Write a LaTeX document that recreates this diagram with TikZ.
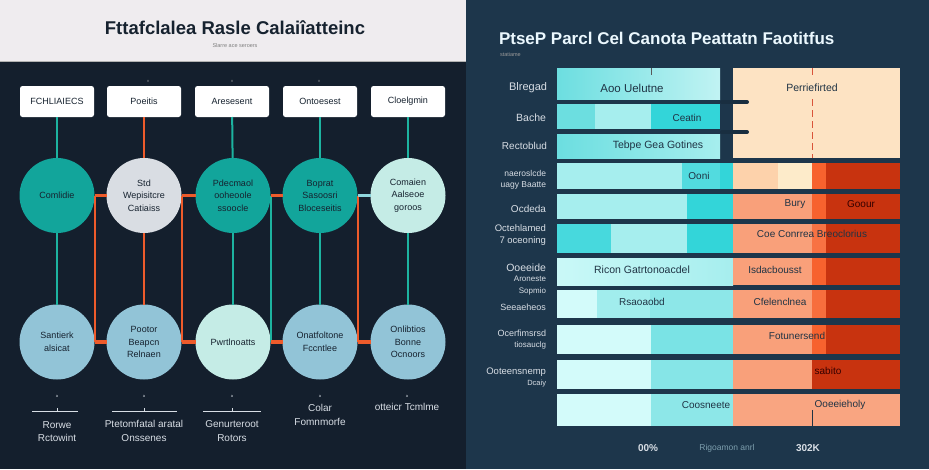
\documentclass[tikz,border=0pt]{standalone}
\usepackage{fontspec}
\setmainfont{Liberation Sans}
\definecolor{leftbg}{HTML}{141F2D}
\definecolor{hdr}{HTML}{EFECEF}
\definecolor{rightbg}{HTML}{1D364B}
\definecolor{ink}{HTML}{16222F}
\definecolor{tealc}{HTML}{12A59B}
\definecolor{tealline}{HTML}{1DB3A0}
\definecolor{orangeline}{HTML}{EE5B2B}
\definecolor{greyc}{HTML}{D9DDE3}
\definecolor{mintc}{HTML}{C5ECE6}
\definecolor{bluec}{HTML}{92C4D7}
\definecolor{lightline}{HTML}{8FD6DC}
\definecolor{lbltext}{HTML}{D8DEE5}
\definecolor{cyanA}{HTML}{A6EEEE}
\definecolor{cyanB}{HTML}{33D5D9}
\definecolor{cyanC}{HTML}{6CDEE0}
\definecolor{cyanP}{HTML}{D3FBFA}
\definecolor{cyanM}{HTML}{86E5E7}
\definecolor{peach}{HTML}{FDE3C3}
\definecolor{peachL}{HTML}{FDEBCA}
\definecolor{peachM}{HTML}{FDD2AB}
\definecolor{salmon}{HTML}{F9A07A}
\definecolor{orng}{HTML}{F7622E}
\definecolor{rust}{HTML}{C8330F}
\definecolor{dashred}{HTML}{D9543A}
\definecolor{barink}{HTML}{1F3344}
\begin{document}
\begin{tikzpicture}[x=1pt,y=-1pt,
  every node/.style={inner sep=0pt, outer sep=0pt},
  hbox/.style={fill=white, rounded corners=2.5pt, minimum width=74pt, minimum height=31pt,
    font=\fontsize{9}{11}\selectfont, text=ink},
  circ/.style={circle, minimum size=75pt, font=\fontsize{9}{12.5}\selectfont, text=ink, align=center},
  tline/.style={draw=tealline, line width=2pt},
  oline/.style={draw=orangeline, line width=2pt},
  ohline/.style={draw=orangeline, line width=3pt},
  ohthick/.style={draw=orangeline, line width=4pt},
  lowlbl/.style={font=\fontsize{10}{13.5}\selectfont, text=lbltext, align=center},
  tinymark/.style={font=\fontsize{4}{4}\selectfont, text=lbltext},
  rowlbl/.style={anchor=east, text=lbltext, align=right},
  bartxt/.style={text=barink},
  redtxt/.style={text=black!80!red}
]
\useasboundingbox (0,0) rectangle (929,469);
% backgrounds
\fill[leftbg] (0,0) rectangle (466,469);
\fill[hdr] (0,0) rectangle (466,61);
\draw[gray!60, line width=0.8pt] (0,61.5) -- (466,61.5);
\fill[rightbg] (466,0) rectangle (929,469);

% ---------- left panel ----------
\node[font=\bfseries\fontsize{18.5}{21}\selectfont, text=ink] (ltitle) at (235,28) {Fttafclalea Rasle Calaiîatteinc};
\node[font=\fontsize{5.5}{6}\selectfont, text=gray] (lsub) at (235,46) {Slarre ace seroers};

\foreach \x/\n in {148/m1,232/m2,319/m3}
  \node[tinymark, text=gray!70] (\n) at (\x,81) {v};

\node[hbox] (b1) at (57,101.5) {FCHLIAIECS};
\node[hbox] (b2) at (144,101.5) {Poeitis};
\node[hbox] (b3) at (232,101.5) {Aresesent};
\node[hbox] (b4) at (320,101.5) {Ontoesest};
\node[hbox] (b5) at (408,101.5) {Cloelgmin};

\node[circ, fill=tealc] (c1) at (57,195.5) {Comlidie};
\node[circ, fill=greyc] (c2) at (144,195.5) {Std\\Wepisitcre\\Catiaiss};
\node[circ, fill=tealc] (c3) at (233,195.5) {Pdecmaol\\ooheoole\\ssoocle};
\node[circ, fill=tealc] (c4) at (320,195.5) {Boprat\\Sasoosri\\Bloceseitis};
\node[circ, fill=mintc] (c5) at (408,195.5) {Comaien\\Aalseoe\\goroos};

\node[circ, fill=bluec] (d1) at (57,342) {Santierk\\alsicat};
\node[circ, fill=bluec] (d2) at (144,342) {Pootor\\Beapcn\\Relnaen};
\node[circ, fill=mintc] (d3) at (233,342) {Pwrtlnoatts};
\node[circ, fill=bluec] (d4) at (320,342) {Onatfoltone\\Fccntlee};
\node[circ, fill=bluec] (d5) at (408,342) {Onlibtios\\Bonne\\Ocnoors};

% box to circle
\draw[tline] (b1) -- (c1);
\draw[oline] (b2) -- (c2);
\draw[tline] (b3) -- (c3);
\draw[tline] (b4) -- (c4);
\draw[tline] (b5) -- (c5);
% circle to circle
\draw[tline] (c1) -- (d1);
\draw[oline] (c2) -- (d2);
\draw[tline] (c3) -- (d3);
\draw[tline] (c4) -- (d4);
\draw[tline] (c5) -- (d5);
% vertical links
\draw[oline] (c1.east) -- (d1.east);
\draw[oline] (c2.east) -- (d2.east);
\draw[tline] (c3.east) -- (d3.east);
\draw[oline] (c4.east) -- (d4.east);
% horizontal row 1
\draw[ohline] (c1.east) -- (c2.west);
\draw[ohline] (c2.east) -- (c3.west);
\draw[ohline] (c3.east) -- (c4.west);
\draw[draw=lightline, line width=3pt] (c4.east) -- (c5.west);
% horizontal row 2
\draw[ohthick] (d1.east) -- (d2.west);
\draw[ohthick] (d2.east) -- (d3.west);
\draw[ohthick] (d3.east) -- (d4.west);
\draw[ohthick] (d4.east) -- (d5.west);

% bottom marks and labels
\foreach \x/\n in {57/k1,144/k2,232/k3,320/k4,407/k5}
  \node[tinymark] (\n) at (\x,396) {a};
\coordinate (u1a) at (32,411); \coordinate (u1b) at (78,411);
\coordinate (u2a) at (112,411); \coordinate (u2b) at (177,411);
\coordinate (u3a) at (203,411); \coordinate (u3b) at (261,411);
\draw[lbltext, line width=0.9pt] (u1a) -- (u1b) (57,411) -- (57,407.5);
\draw[lbltext, line width=0.9pt] (u2a) -- (u2b) (144,411) -- (144,407.5);
\draw[lbltext, line width=0.9pt] (u3a) -- (u3b) (232,411) -- (232,407.5);
\node[lowlbl] (e1) at (57,431.5) {Rorwe\\Rctowint};
\node[lowlbl] (e2) at (144,431) {Ptetomfatal aratal\\Onssenes};
\node[lowlbl] (e3) at (232,431) {Genurteroot\\Rotors};
\node[lowlbl] (e4) at (320,415) {Colar\\Fomnmorfe};
\node[lowlbl] (e5) at (407,407) {otteicr Tcmlme};

% ---------- right panel ----------
\node[anchor=west, font=\bfseries\fontsize{17}{20}\selectfont, text=white!92!cyan] (rtitle) at (499,38) {PtseP Parcl Cel Canota Peattatn Faotitfus};
\node[anchor=west, font=\fontsize{5.5}{6}\selectfont, text=gray!80] (rsub) at (500,55) {statiame};

% rows 1-3 (left bars)
\shade[left color=cyanC, right color=cyanA!70!white] (557,68) rectangle (720,99);
\fill[cyanC] (557,104) rectangle (595,129);
\fill[cyanA] (595,104) rectangle (651,129);
\fill[cyanB] (651,104) rectangle (720,129);
\shade[left color=cyanC, right color=cyanA] (557,134) rectangle (720,158);
\draw[gray!70!black, line width=0.7pt] (651,68) -- (651,75);
% peach block
\fill[peach] (733,68) rectangle (900,158);
\draw[dashred, line width=0.8pt] (812,68) -- (812,75);
\draw[dashred, line width=0.8pt, dash pattern=on 7pt off 4pt] (812,99) -- (812,158);
\coordinate (n1a) at (722,102); \coordinate (n1b) at (747,102);
\coordinate (n2a) at (722,132); \coordinate (n2b) at (747,132);
\draw[rightbg!85!black, line width=4pt, line cap=round] (n1a) -- (n1b);
\draw[rightbg!85!black, line width=4pt, line cap=round] (n2a) -- (n2b);

% row 4
\fill[cyanA] (557,163) rectangle (682,189);
\fill[cyanB!85!white] (682,163) rectangle (720,189);
\fill[cyanB] (720,163) rectangle (733,189);
\fill[peachM] (733,163) rectangle (778,189);
\fill[peachL] (778,163) rectangle (812,189);
\fill[orng] (812,163) rectangle (826,189);
\fill[rust] (826,163) rectangle (900,189);
% row 5
\fill[cyanA] (557,194) rectangle (687,219);
\fill[cyanB] (687,194) rectangle (733,219);
\fill[salmon] (733,194) rectangle (812,219);
\fill[orng] (812,194) rectangle (826,219);
\fill[rust] (826,194) rectangle (900,219);
% row 6
\fill[cyanB!90!white] (557,224) rectangle (611,253);
\fill[cyanA] (611,224) rectangle (687,253);
\fill[cyanB] (687,224) rectangle (733,253);
\fill[salmon] (733,224) rectangle (812,253);
\fill[orng!90!white] (812,224) rectangle (826,253);
\fill[rust] (826,224) rectangle (900,253);
% row 7
\shade[left color=cyanP!80!cyanA, right color=cyanA] (557,258) rectangle (733,285);
\fill[salmon] (733,258) rectangle (812,285);
\fill[orng] (812,258) rectangle (826,285);
\fill[rust] (826,258) rectangle (900,285);
% row 8
\fill[cyanP] (557,290) rectangle (597,318);
\fill[cyanA!85!cyanM] (597,290) rectangle (650,318);
\fill[cyanM!80!cyanA] (650,290) rectangle (733,318);
\fill[salmon] (733,290) rectangle (812,318);
\fill[orng!80!salmon] (812,290) rectangle (826,318);
\fill[rust] (826,290) rectangle (900,318);
% row 9
\fill[cyanP] (557,325) rectangle (651,354);
\fill[cyanM!85!cyanB] (651,325) rectangle (733,354);
\fill[salmon] (733,325) rectangle (812,354);
\fill[orng] (812,325) rectangle (826,354);
\fill[rust] (826,325) rectangle (900,354);
% row 10
\fill[cyanP] (557,360) rectangle (651,389);
\fill[cyanM] (651,360) rectangle (733,389);
\fill[salmon] (733,360) rectangle (812,389);
\fill[rust] (812,360) rectangle (900,389);
% row 11
\fill[cyanP] (557,394) rectangle (651,426);
\fill[cyanM!80!cyanA] (651,394) rectangle (733,426);
\fill[salmon!95!white] (733,394) rectangle (900,426);
\draw[barink, line width=0.6pt] (812,410) -- (812,426);

% bar texts
\node[bartxt, font=\fontsize{11.5}{13}\selectfont] (t1) at (632,88) {Aoo Uelutne};
\node[bartxt, font=\fontsize{10.5}{12}\selectfont] (t1r) at (812,88) {Perriefirted};
\node[bartxt, font=\fontsize{10}{12}\selectfont] (t2) at (687,118) {Ceatin};
\node[bartxt, font=\fontsize{10.5}{12}\selectfont] (t3) at (658,146) {Tebpe Gea Gotines};
\node[bartxt, font=\fontsize{10}{12}\selectfont] (t4) at (699,176) {Ooni};
\node[bartxt, font=\fontsize{10}{12}\selectfont] (t5a) at (795,204) {Bury};
\node[redtxt, font=\fontsize{10}{12}\selectfont] (t5b) at (861,204) {Goour};
\node[bartxt, font=\fontsize{10}{12}\selectfont] (t6) at (812,234) {Coe Conrrea Breoclorius};
\node[bartxt, font=\fontsize{10.5}{12}\selectfont] (t7a) at (642,270) {Ricon Gatrtonoacdel};
\node[bartxt, font=\fontsize{10}{12}\selectfont] (t7b) at (775,270) {Isdacbousst};
\node[bartxt, font=\fontsize{10}{12}\selectfont] (t8a) at (642,302) {Rsaoaobd};
\node[bartxt, font=\fontsize{10}{12}\selectfont] (t8b) at (780,302) {Cfelenclnea};
\node[bartxt, font=\fontsize{10}{12}\selectfont] (t9) at (797,336) {Fotunersend};
\node[redtxt, font=\fontsize{10}{12}\selectfont] (t10) at (828,371) {sabito};
\node[bartxt, font=\fontsize{10}{12}\selectfont] (t11a) at (706,405) {Coosneete};
\node[bartxt, font=\fontsize{10}{12}\selectfont] (t11b) at (840,405) {Ooeeieholy};

% row labels
\node[rowlbl, font=\fontsize{11}{13}\selectfont] (l1) at (547,88) {Blregad};
\node[rowlbl, font=\fontsize{10.5}{13}\selectfont] (l2) at (546,118) {Bache};
\node[rowlbl, font=\fontsize{10}{13}\selectfont] (l3) at (547,146) {Rectoblud};
\node[rowlbl, font=\fontsize{8.5}{10.5}\selectfont] (l4) at (546,180) {naeroslcde\\uagy Baatte};
\node[rowlbl, font=\fontsize{10}{13}\selectfont] (l5) at (546,209) {Ocdeda};
\node[rowlbl, font=\fontsize{9.5}{12}\selectfont] (l6) at (546,235) {Octehlamed\\7 oceoning};
\node[rowlbl, font=\fontsize{10.5}{12}\selectfont] (l7) at (546,268) {Ooeeide};
\node[rowlbl, font=\fontsize{8}{12.5}\selectfont] (l7b) at (546,285.5) {Aroneste\\Sopmio};
\node[rowlbl, font=\fontsize{9}{12}\selectfont] (l8) at (546,307) {Seeaeheos};
\node[rowlbl, font=\fontsize{9}{11}\selectfont] (l9) at (546,339.5) {Ocerfimsrsd\\{\fontsize{8}{11}\selectfont tiosauclg}};
\node[rowlbl, font=\fontsize{9.5}{11}\selectfont] (l10) at (546,377.5) {Ooteensnemp\\{\fontsize{7.5}{11}\selectfont Dcaiy}};

% axis labels
\node[font=\bfseries\fontsize{10}{12}\selectfont, text=lbltext] (a1) at (648,448) {00\%};
\node[font=\fontsize{8.5}{12}\selectfont, text=gray!70!cyan] (a2) at (727,448) {Rigoamon anrl};
\node[font=\bfseries\fontsize{10}{12}\selectfont, text=lbltext] (a3) at (808,448) {302K};
\end{tikzpicture}
\end{document}
